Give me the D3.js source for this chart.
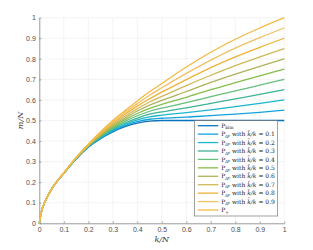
<!DOCTYPE html>
<html>
<head>
<meta charset="utf-8">
<script src="https://cdn.jsdelivr.net/npm/d3@7"></script>
<style>
  body { margin: 0; background: #fff; }
  svg { display: block; }
  .tick text { font-family: "Liberation Sans", Arial, sans-serif; font-size: 7px; fill: #4d4d4d; }
</style>
</head>
<body>
<div id="chart"></div>
<script>
// k/N sample points
const kN = [0, 0.01, 0.02, 0.05, 0.1, 0.15, 0.2, 0.25, 0.3, 0.35, 0.4, 0.45, 0.5, 0.6, 0.7, 0.8, 0.9, 1];

// m/N per curve
const pBlin = [0, 0.063, 0.096, 0.166, 0.243, 0.313, 0.370, 0.412, 0.445, 0.470, 0.487, 0.497, 0.500, 0.500, 0.500, 0.500, 0.500, 0.500];
const pIF01 = [0, 0.063, 0.096, 0.166, 0.243, 0.313, 0.371, 0.414, 0.448, 0.475, 0.494, 0.506, 0.511, 0.516, 0.524, 0.531, 0.540, 0.55];
const pIF02 = [0, 0.063, 0.096, 0.166, 0.243, 0.314, 0.372, 0.417, 0.453, 0.481, 0.503, 0.518, 0.526, 0.538, 0.552, 0.567, 0.583, 0.60];
const pIF03 = [0, 0.063, 0.096, 0.166, 0.243, 0.315, 0.374, 0.420, 0.458, 0.488, 0.512, 0.531, 0.542, 0.561, 0.583, 0.605, 0.627, 0.65];
const pIF04 = [0, 0.063, 0.096, 0.166, 0.244, 0.315, 0.375, 0.423, 0.463, 0.496, 0.523, 0.545, 0.560, 0.587, 0.616, 0.644, 0.672, 0.70];
const pIF05 = [0, 0.063, 0.096, 0.166, 0.244, 0.316, 0.377, 0.426, 0.469, 0.504, 0.534, 0.559, 0.578, 0.613, 0.650, 0.684, 0.717, 0.75];
const pIF06 = [0, 0.063, 0.096, 0.166, 0.244, 0.317, 0.378, 0.430, 0.475, 0.512, 0.546, 0.575, 0.598, 0.641, 0.685, 0.725, 0.763, 0.80];
const pIF07 = [0, 0.063, 0.096, 0.166, 0.244, 0.318, 0.380, 0.434, 0.481, 0.521, 0.557, 0.590, 0.617, 0.670, 0.720, 0.767, 0.809, 0.85];
const pIF08 = [0, 0.063, 0.096, 0.166, 0.245, 0.318, 0.381, 0.437, 0.487, 0.530, 0.570, 0.606, 0.638, 0.699, 0.757, 0.809, 0.856, 0.90];
const pIF09 = [0, 0.063, 0.096, 0.166, 0.245, 0.319, 0.383, 0.441, 0.493, 0.539, 0.582, 0.623, 0.659, 0.729, 0.794, 0.852, 0.903, 0.95];
const pPlus = [0, 0.063, 0.096, 0.166, 0.245, 0.320, 0.385, 0.445, 0.500, 0.548, 0.595, 0.640, 0.680, 0.760, 0.832, 0.895, 0.950, 1.00];

const ratios = ['0.1', '0.2', '0.3', '0.4', '0.5', '0.6', '0.7', '0.8', '0.9'];
const tickValues = [0, 0.1, 0.2, 0.3, 0.4, 0.5, 0.6, 0.7, 0.8, 0.9, 1];
const tickLabels = ['0', '0.1', '0.2', '0.3', '0.4', '0.5', '0.6', '0.7', '0.8', '0.9', '1'];

const colors = ['#0b72bd', '#13a3dc', '#1ab6cc', '#3db394', '#67bf7f', '#86bd4c', '#aeb25a', '#cfb855', '#efb234', '#f0c062', '#f6b944'];

const series = [pBlin, pIF01, pIF02, pIF03, pIF04, pIF05, pIF06, pIF07, pIF08, pIF09, pPlus];

const width = 313, height = 250;
const margin = {left: 39.3, right: 28.7, top: 17.7, bottom: 26.7};

const svg = d3.select('#chart').append('svg')
    .attr('width', width)
    .attr('height', height);

const x = d3.scaleLinear().domain([0, 1]).range([margin.left, width - margin.right]);
const y = d3.scaleLinear().domain([0, 1]).range([height - margin.bottom, margin.top]);

// grid
const grid = svg.append('g').attr('class', 'grid');
grid.selectAll('line.v').data(tickValues).enter().append('line')
    .attr('x1', d => x(d)).attr('x2', d => x(d))
    .attr('y1', y(0)).attr('y2', y(1))
    .attr('stroke', '#ebebeb').attr('stroke-width', 0.6);
grid.selectAll('line.h').data(tickValues).enter().append('line')
    .attr('y1', d => y(d)).attr('y2', d => y(d))
    .attr('x1', x(0)).attr('x2', x(1))
    .attr('stroke', '#ebebeb').attr('stroke-width', 0.6);

// axes
const fmt = d => tickLabels[tickValues.indexOf(d)];
const xAxis = d3.axisBottom(x).tickValues(tickValues).tickFormat(fmt).tickSizeInner(-2).tickSizeOuter(0).tickPadding(3.5);
const yAxis = d3.axisLeft(y).tickValues(tickValues).tickFormat(fmt).tickSizeInner(-2).tickSizeOuter(0).tickPadding(3.5);

const gx = svg.append('g').attr('transform', 'translate(0,' + y(0) + ')').call(xAxis);
const gy = svg.append('g').attr('transform', 'translate(' + x(0) + ',0)').call(yAxis);
[gx, gy].forEach(g => {
    g.select('.domain').attr('stroke', '#777').attr('stroke-width', 0.7);
    g.selectAll('.tick line').attr('stroke', '#777').attr('stroke-width', 0.6);
});

// curves
const line = d3.line()
    .x((d, i) => x(kN[i]))
    .y(d => y(d))
    .curve(d3.curveMonotoneX);

svg.append('g').selectAll('path').data(series).enter().append('path')
    .attr('d', line)
    .attr('fill', 'none')
    .attr('stroke', (d, i) => colors[i])
    .attr('stroke-width', 1.3);

// axis labels
svg.append('text')
    .attr('x', (x(0) + x(1)) / 2)
    .attr('y', 242)
    .attr('text-anchor', 'middle')
    .attr('font-family', '"DejaVu Serif", serif')
    .attr('font-style', 'italic')
    .attr('font-size', 8)
    .attr('fill', '#333')
    .text('k/N');

svg.append('text')
    .attr('transform', 'translate(23,' + (y(0) + y(1)) / 2 + ') rotate(-90)')
    .attr('text-anchor', 'middle')
    .attr('font-family', '"DejaVu Serif", serif')
    .attr('font-style', 'italic')
    .attr('font-size', 8)
    .attr('fill', '#333')
    .text('m/N');

// legend
const lg = svg.append('g').attr('class', 'legend');
const lx = 194.3, ly = 120.7, lw = 83.4, lh = 95.3, rowH = 8.43;
lg.append('rect')
    .attr('x', lx).attr('y', ly).attr('width', lw).attr('height', lh)
    .attr('fill', '#fff').attr('stroke', '#666').attr('stroke-width', 0.6);

const labels = ['blin'].concat(ratios).concat(['+']);
const rows = lg.selectAll('g.row').data(labels).enter().append('g')
    .attr('transform', (d, i) => 'translate(0,' + (ly + 5 + i * rowH) + ')');

rows.append('line')
    .attr('x1', lx + 3.5).attr('x2', lx + 24)
    .attr('stroke', (d, i) => colors[i])
    .attr('stroke-width', 1.3);

const txt = rows.append('text')
    .attr('x', lx + 27)
    .attr('y', 2.2)
    .attr('font-family', '"DejaVu Serif", serif')
    .attr('font-size', 6)
    .attr('fill', '#222');

txt.each(function(d, i) {
    const t = d3.select(this);
    t.append('tspan').text('P');
    if (i === 0) {
        t.append('tspan').attr('font-size', 4.3).attr('dy', 1.5).text('blin');
    } else if (i === labels.length - 1) {
        t.append('tspan').attr('font-size', 4.3).attr('dy', 1.5).text('+');
    } else {
        t.append('tspan').attr('font-size', 4.3).attr('dy', 1.5).attr('font-style', 'italic').text('IF');
        t.append('tspan').attr('dy', -1.5).text(' with ');
        t.append('tspan').attr('font-style', 'italic').text('k\u0302/k');
        t.append('tspan').text(' = ' + d);
    }
});
</script>
</body>
</html>
